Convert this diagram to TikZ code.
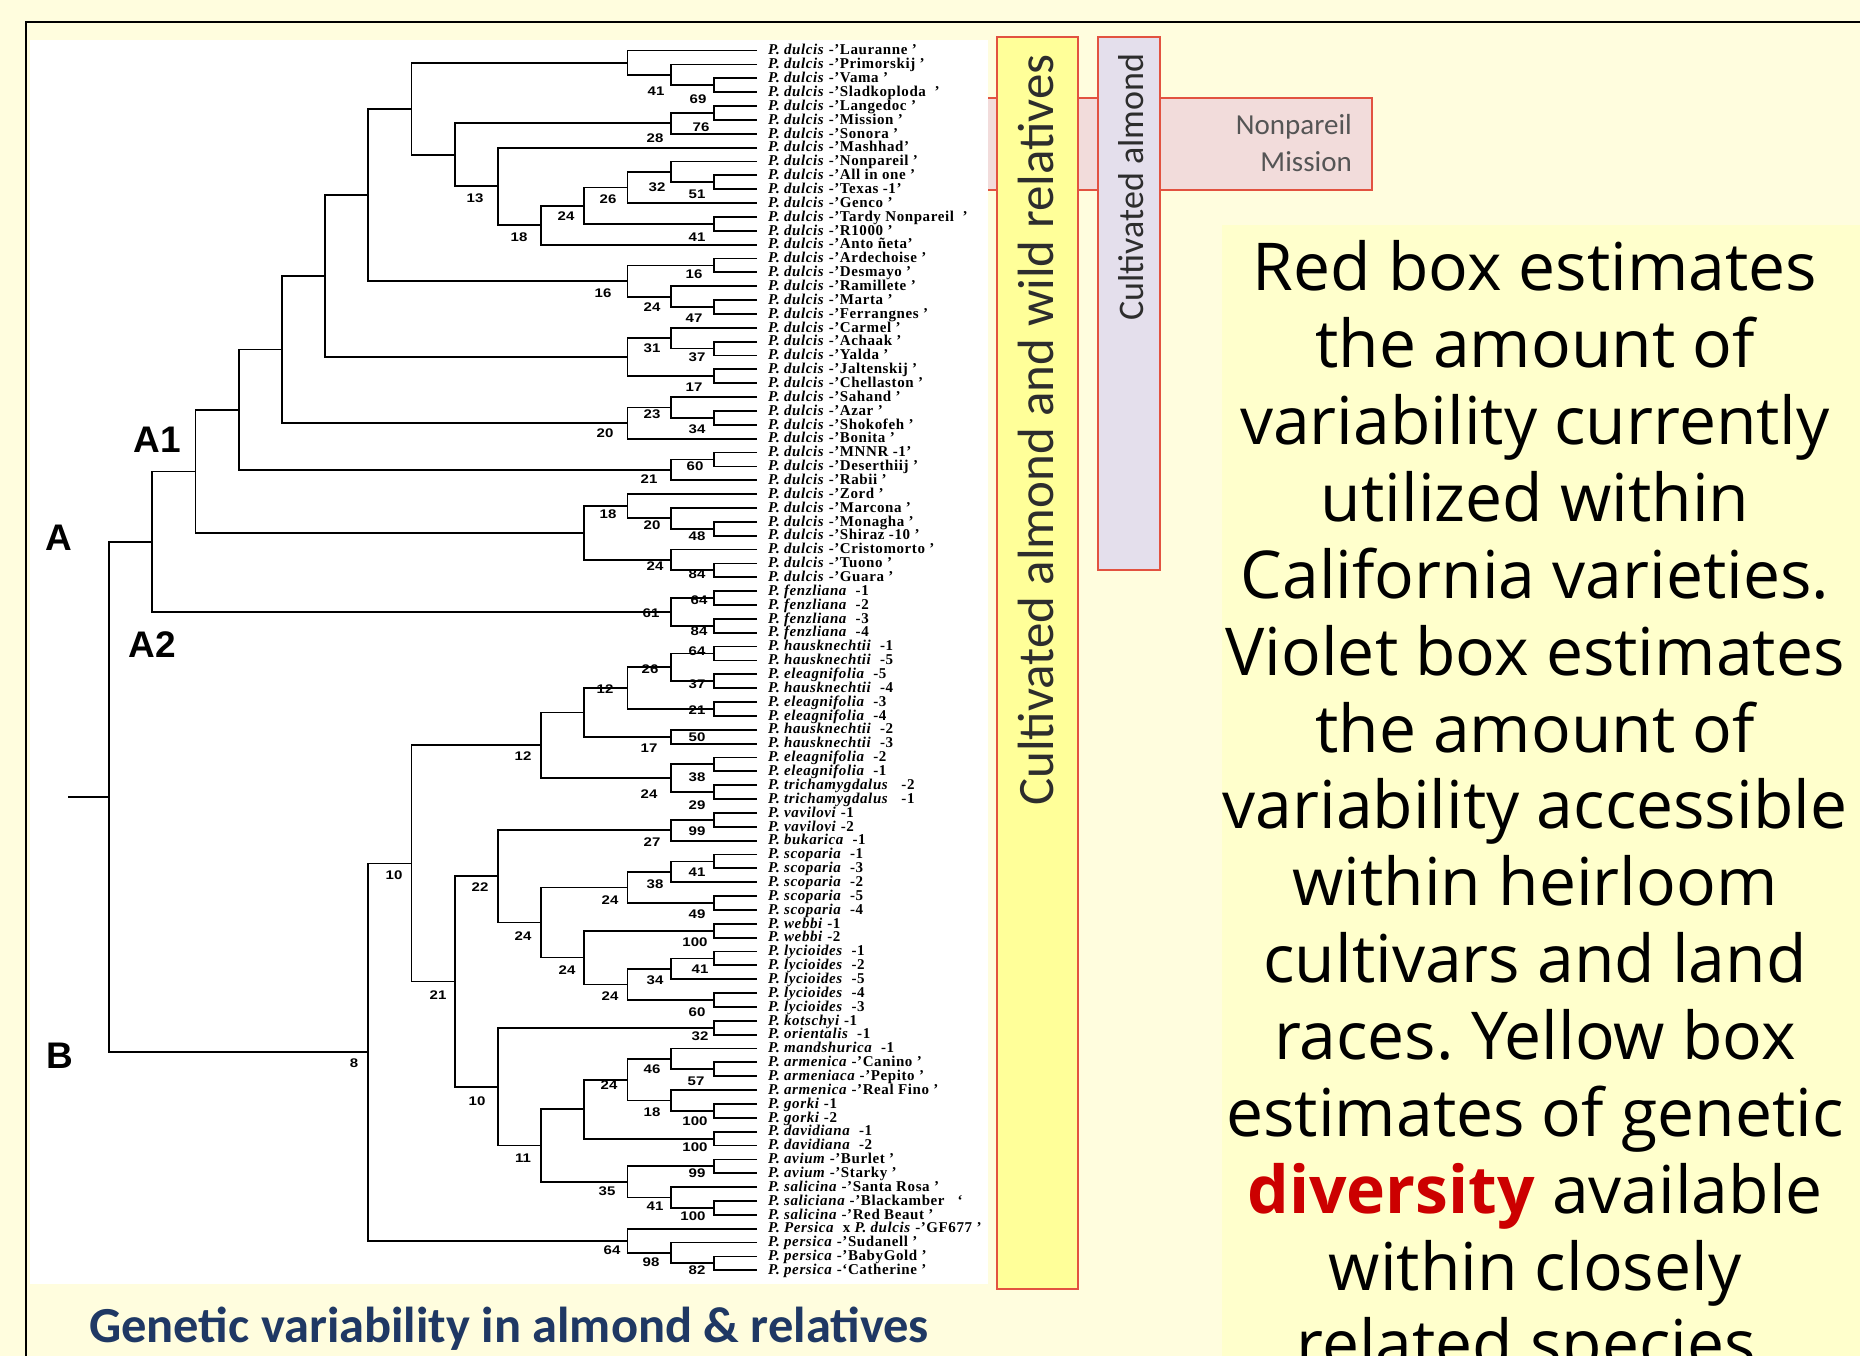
\documentclass[tikz,border=0pt]{standalone}
\usepackage{fontspec}
\setmainfont{Liberation Serif}
\newfontfamily\leaffont[LetterSpace=4]{Liberation Serif}
\newfontfamily\bsfont[FakeStretch=1.2]{Liberation Sans}
\newfontfamily\arialf{Liberation Sans}
\newfontfamily\calf{Carlito}
\newfontfamily\rtfont{Open Sans}
\usetikzlibrary{calc}
\frenchspacing
\definecolor{bgyel}{RGB}{255,253,222}
\definecolor{txtyel}{RGB}{255,255,204}
\definecolor{boxyel}{RGB}{255,255,153}
\definecolor{boxvio}{RGB}{228,223,236}
\definecolor{boxpink}{RGB}{242,220,219}
\definecolor{boxred}{RGB}{226,82,64}
\definecolor{navy}{RGB}{31,56,100}
\definecolor{divred}{RGB}{204,0,0}
\definecolor{graytxt}{RGB}{85,85,85}
\definecolor{darktxt}{RGB}{45,45,45}
\newcounter{bscount}
\newcommand\leafnode[2]{%
  \pgfmathsetmacro\leafy{50.6+13.86*(#1-1)}%
  \coordinate (t#1) at (757,\leafy);%
  \node[leaflab] (lab#1) at (768,\leafy) {#2};}
\newcommand\tnode[4]{%
  \pgfmathsetmacro\nodex{109+43.2*#2}%
  \path let \p1=($(#3)!.5!(#4)$) in coordinate (#1) at (\nodex pt,\y1);%
  \draw[br] (#3) -| (#1) |- (#4);}
\newcommand\bsl[3]{\stepcounter{bscount}\node[bslab] (bs\thebscount) at (#1,#2) {#3};}
\newcommand\dul[1]{\textit{P. dulcis} -’#1}
\newcommand\spc[2]{\textit{P. #1}~~#2}
\newcommand\rtl[2]{\node[rtx] (rt#1) at (1535,{290.6+76.9*(#1-1)}) {#2};}
\begin{document}
\begin{tikzpicture}[x=1pt,y=-1pt,
  br/.style={line width=1.8pt,line join=miter},
  leaflab/.style={anchor=west,inner sep=0pt,text height=10.5pt,text depth=2pt,
    font=\leaffont\fontsize{15}{15}\selectfont\bfseries},
  bslab/.style={inner sep=0pt,font=\bsfont\fontsize{12.5}{12.5}\selectfont\bfseries},
  abl/.style={inner sep=0pt,font=\arialf\fontsize{37}{37}\selectfont\bfseries},
  rtx/.style={anchor=base,inner sep=0pt,font=\rtfont\fontsize{66}{66}\selectfont,text=black},
  colbox/.style={draw=boxred,line width=2.6pt}]
\useasboundingbox (0,0) rectangle (1860,1356);
\clip (0,0) rectangle (1860,1356);
\fill[bgyel] (0,0) rectangle (1860,1356);
\fill[txtyel] (1222,225) rectangle (1860,1356);
\draw[line width=2pt] (26,1356) -- (26,22) -- (1860,22);
% pink box (behind)
\draw[colbox,fill=boxpink] (975,98) rectangle (1372,190);
% white panel
\fill[white] (30,40) rectangle (988,1284);
% leaves
\leafnode{1}{\dul{Lauranne ’}}
\leafnode{2}{\dul{Primorskij ’}}
\leafnode{3}{\dul{Vama ’}}
\leafnode{4}{\dul{Sladkoploda ~’}}
\leafnode{5}{\dul{Langedoc ’}}
\leafnode{6}{\dul{Mission ’}}
\leafnode{7}{\dul{Sonora ’}}
\leafnode{8}{\dul{Mashhad’}}
\leafnode{9}{\dul{Nonpareil ’}}
\leafnode{10}{\dul{All in one ’}}
\leafnode{11}{\dul{Texas -1’}}
\leafnode{12}{\dul{Genco ’}}
\leafnode{13}{\dul{Tardy Nonpareil ~’}}
\leafnode{14}{\dul{R1000 ’}}
\leafnode{15}{\dul{Anto ñeta’}}
\leafnode{16}{\dul{Ardechoise ’}}
\leafnode{17}{\dul{Desmayo ’}}
\leafnode{18}{\dul{Ramillete ’}}
\leafnode{19}{\dul{Marta ’}}
\leafnode{20}{\dul{Ferrangnes ’}}
\leafnode{21}{\dul{Carmel ’}}
\leafnode{22}{\dul{Achaak ’}}
\leafnode{23}{\dul{Yalda ’}}
\leafnode{24}{\dul{Jaltenskij ’}}
\leafnode{25}{\dul{Chellaston ’}}
\leafnode{26}{\dul{Sahand ’}}
\leafnode{27}{\dul{Azar ’}}
\leafnode{28}{\dul{Shokofeh ’}}
\leafnode{29}{\dul{Bonita ’}}
\leafnode{30}{\dul{MNNR -1’}}
\leafnode{31}{\dul{Deserthiij ’}}
\leafnode{32}{\dul{Rabii ’}}
\leafnode{33}{\dul{Zord ’}}
\leafnode{34}{\dul{Marcona ’}}
\leafnode{35}{\dul{Monagha ’}}
\leafnode{36}{\dul{Shiraz -10 ’}}
\leafnode{37}{\dul{Cristomorto ’}}
\leafnode{38}{\dul{Tuono ’}}
\leafnode{39}{\dul{Guara ’}}
\leafnode{40}{\spc{fenzliana}{-1}}
\leafnode{41}{\spc{fenzliana}{-2}}
\leafnode{42}{\spc{fenzliana}{-3}}
\leafnode{43}{\spc{fenzliana}{-4}}
\leafnode{44}{\spc{hausknechtii}{-1}}
\leafnode{45}{\spc{hausknechtii}{-5}}
\leafnode{46}{\spc{eleagnifolia}{-5}}
\leafnode{47}{\spc{hausknechtii}{-4}}
\leafnode{48}{\spc{eleagnifolia}{-3}}
\leafnode{49}{\spc{eleagnifolia}{-4}}
\leafnode{50}{\spc{hausknechtii}{-2}}
\leafnode{51}{\spc{hausknechtii}{-3}}
\leafnode{52}{\spc{eleagnifolia}{-2}}
\leafnode{53}{\spc{eleagnifolia}{-1}}
\leafnode{54}{\spc{trichamygdalus}{~-2}}
\leafnode{55}{\spc{trichamygdalus}{~-1}}
\leafnode{56}{\textit{P. vavilovi} -1}
\leafnode{57}{\textit{P. vavilovi} -2}
\leafnode{58}{\textit{P. bukarica} ~-1}
\leafnode{59}{\textit{P. scoparia} ~-1}
\leafnode{60}{\textit{P. scoparia} ~-3}
\leafnode{61}{\textit{P. scoparia} ~-2}
\leafnode{62}{\textit{P. scoparia} ~-5}
\leafnode{63}{\textit{P. scoparia} ~-4}
\leafnode{64}{\textit{P. webbi} -1}
\leafnode{65}{\textit{P. webbi} -2}
\leafnode{66}{\spc{lycioides}{-1}}
\leafnode{67}{\spc{lycioides}{-2}}
\leafnode{68}{\spc{lycioides}{-5}}
\leafnode{69}{\spc{lycioides}{-4}}
\leafnode{70}{\spc{lycioides}{-3}}
\leafnode{71}{\textit{P. kotschyi} -1}
\leafnode{72}{\spc{orientalis}{-1}}
\leafnode{73}{\spc{mandshurica}{-1}}
\leafnode{74}{\textit{P. armenica} -’Canino ’}
\leafnode{75}{\textit{P. armeniaca} -’Pepito ’}
\leafnode{76}{\textit{P. armenica} -’Real Fino ’}
\leafnode{77}{\textit{P. gorki} -1}
\leafnode{78}{\textit{P. gorki} -2}
\leafnode{79}{\spc{davidiana}{-1}}
\leafnode{80}{\spc{davidiana}{-2}}
\leafnode{81}{\textit{P. avium} -’Burlet ’}
\leafnode{82}{\textit{P. avium} -’Starky ’}
\leafnode{83}{\textit{P. salicina} -’Santa Rosa ’}
\leafnode{84}{\textit{P. saliciana} -’Blackamber ~~‘}
\leafnode{85}{\textit{P. salicina} -’Red Beaut ’}
\leafnode{86}{\textit{P. Persica} ~x \textit{P. dulcis} -’GF677 ’}
\leafnode{87}{\textit{P. persica} -’Sudanell ’}
\leafnode{88}{\textit{P. persica} -’BabyGold ’}
\leafnode{89}{\textit{P. persica} -‘Catherine ’}
% tree A
\tnode{a1}{14}{t3}{t4}
\tnode{a2}{13}{t2}{a1}
\tnode{a3}{12}{t1}{a2}
\tnode{a4}{14}{t5}{t6}
\tnode{a5}{13}{a4}{t7}
\tnode{a6}{14}{t10}{t11}
\tnode{a7}{13}{t9}{a6}
\tnode{a8}{12}{a7}{t12}
\tnode{a9}{14}{t13}{t14}
\tnode{a10}{11}{a8}{a9}
\tnode{a11}{10}{a10}{t15}
\tnode{a12}{9}{t8}{a11}
\tnode{a13}{8}{a5}{a12}
\tnode{a14}{7}{a3}{a13}
\tnode{a15}{14}{t16}{t17}
\tnode{a16}{14}{t19}{t20}
\tnode{a17}{13}{t18}{a16}
\tnode{a18}{12}{a15}{a17}
\tnode{a19}{6}{a14}{a18}
\tnode{a20}{14}{t22}{t23}
\tnode{a21}{13}{t21}{a20}
\tnode{a22}{14}{t24}{t25}
\tnode{a23}{12}{a21}{a22}
\tnode{a24}{5}{a19}{a23}
\tnode{a25}{14}{t27}{t28}
\tnode{a26}{13}{t26}{a25}
\tnode{a27}{12}{a26}{t29}
\tnode{a28}{4}{a24}{a27}
\tnode{a29}{14}{t30}{t31}
\tnode{a30}{13}{a29}{t32}
\tnode{a31}{3}{a28}{a30}
\tnode{a32}{14}{t35}{t36}
\tnode{a33}{13}{t34}{a32}
\tnode{a34}{12}{t33}{a33}
\tnode{a35}{14}{t38}{t39}
\tnode{a36}{13}{t37}{a35}
\tnode{a37}{11}{a34}{a36}
\tnode{A1}{2}{a31}{a37}
\tnode{f1}{14}{t40}{t41}
\tnode{f2}{14}{t42}{t43}
\tnode{f3}{13}{f1}{f2}
\tnode{A}{1}{A1}{f3}
% tree B
\tnode{b1}{14}{t44}{t45}
\tnode{b2}{14}{t46}{t47}
\tnode{b3}{13}{b1}{b2}
\tnode{b4}{14}{t48}{t49}
\tnode{b5}{12}{b3}{b4}
\tnode{b6}{13}{t50}{t51}
\tnode{b7}{11}{b5}{b6}
\tnode{b8}{14}{t52}{t53}
\tnode{b9}{14}{t54}{t55}
\tnode{b10}{13}{b8}{b9}
\tnode{b11}{10}{b7}{b10}
\tnode{b12}{14}{t56}{t57}
\tnode{b13}{13}{b12}{t58}
\tnode{b14}{14}{t59}{t60}
\tnode{b15}{13}{b14}{t61}
\tnode{b16}{14}{t62}{t63}
\tnode{b17}{12}{b15}{b16}
\tnode{b18}{14}{t64}{t65}
\tnode{b19}{14}{t66}{t67}
\tnode{b20}{13}{b19}{t68}
\tnode{b21}{14}{t69}{t70}
\tnode{b22}{12}{b20}{b21}
\tnode{b23}{11}{b18}{b22}
\tnode{b24}{10}{b17}{b23}
\tnode{b25}{9}{b13}{b24}
\tnode{b26}{14}{t71}{t72}
\tnode{b27}{14}{t74}{t75}
\tnode{b28}{13}{t73}{b27}
\tnode{b29}{14}{t77}{t78}
\tnode{b30}{13}{t76}{b29}
\tnode{b31}{12}{b28}{b30}
\tnode{b32}{14}{t79}{t80}
\tnode{b33}{11}{b31}{b32}
\tnode{b34}{14}{t81}{t82}
\tnode{b35}{14}{t84}{t85}
\tnode{b36}{13}{t83}{b35}
\tnode{b37}{12}{b34}{b36}
\tnode{b38}{10}{b33}{b37}
\tnode{b39}{9}{b26}{b38}
\tnode{b40}{8}{b25}{b39}
\tnode{b41}{7}{b11}{b40}
\tnode{b42}{14}{t88}{t89}
\tnode{b43}{13}{t87}{b42}
\tnode{b44}{12}{t86}{b43}
\tnode{B}{6}{b41}{b44}
\tnode{root}{0}{A}{B}
\coordinate (rstub) at ($(root)+(-41,0)$);
\draw[br] (root) -- (rstub);
% bootstrap values
\bsl{656}{91}{41}\bsl{698}{99}{69}\bsl{701}{127}{76}\bsl{655}{138}{28}
\bsl{657}{187}{32}\bsl{697}{194}{51}\bsl{608}{199}{26}\bsl{566}{216}{24}
\bsl{475}{198}{13}\bsl{519}{237}{18}\bsl{697}{237}{41}\bsl{694}{274}{16}
\bsl{603}{293}{16}\bsl{652}{307}{24}\bsl{694}{318}{47}\bsl{652}{348}{31}
\bsl{697}{357}{37}\bsl{694}{387}{17}\bsl{652}{414}{23}\bsl{697}{429}{34}
\bsl{605}{433}{20}\bsl{695}{466}{60}\bsl{649}{479}{21}\bsl{608}{514}{18}
\bsl{652}{525}{20}\bsl{697}{536}{48}\bsl{655}{566}{24}\bsl{697}{574}{84}
\bsl{699}{600}{64}\bsl{651}{613}{61}\bsl{699}{631}{84}
\bsl{697}{651}{64}\bsl{650}{669}{26}\bsl{697}{684}{37}\bsl{605}{689}{12}
\bsl{697}{710}{21}\bsl{697}{737}{50}\bsl{649}{748}{17}\bsl{523}{756}{12}
\bsl{697}{777}{38}\bsl{649}{794}{24}\bsl{697}{805}{29}\bsl{697}{831}{99}
\bsl{652}{842}{27}\bsl{394}{875}{10}\bsl{697}{872}{41}\bsl{655}{884}{38}
\bsl{480}{887}{22}\bsl{610}{900}{24}\bsl{697}{914}{49}\bsl{523}{936}{24}
\bsl{695}{942}{100}\bsl{700}{969}{41}\bsl{567}{970}{24}\bsl{655}{980}{34}
\bsl{610}{996}{24}\bsl{438}{995}{21}\bsl{697}{1012}{60}\bsl{700}{1036}{32}
\bsl{354}{1063}{8}\bsl{652}{1069}{46}\bsl{696}{1081}{57}\bsl{609}{1085}{24}
\bsl{477}{1101}{10}\bsl{652}{1112}{18}\bsl{695}{1121}{100}\bsl{695}{1147}{100}
\bsl{523}{1158}{11}\bsl{697}{1173}{99}\bsl{607}{1191}{35}\bsl{655}{1206}{41}
\bsl{693}{1216}{100}\bsl{612}{1250}{64}\bsl{651}{1262}{98}\bsl{697}{1270}{82}
% clade letters
\node[abl] (labA1) at (157,440) {A1};
\node[abl] (labA2) at (152,645) {A2};
\node[abl] (labA) at (59,538) {A};
\node[abl] (labB) at (60,1056) {B};
% coloured boxes
\draw[colbox,fill=boxyel] (997,37) rectangle (1078,1289);
\draw[colbox,fill=boxvio] (1098,37) rectangle (1160,570);
\node[anchor=base,rotate=90,inner sep=0pt,text=darktxt,font=\calf\fontsize{51}{51}\selectfont]
  (yeltxt) at (1053,430) {Cultivated almond and wild relatives};
\node[anchor=base,rotate=90,inner sep=0pt,text=darktxt,font=\calf\fontsize{36}{36}\selectfont]
  (viotxt) at (1143,187) {Cultivated almond};
\node[anchor=base east,inner sep=0pt,text=graytxt,font=\calf\fontsize{29}{29}\selectfont]
  (np1) at (1352,135) {Nonpareil};
\node[anchor=base east,inner sep=0pt,text=graytxt,font=\calf\fontsize{29}{29}\selectfont]
  (np2) at (1352,172) {Mission};
% right text
\rtl{1}{Red box estimates}
\rtl{2}{the amount of}
\rtl{3}{variability currently}
\rtl{4}{utilized within}
\rtl{5}{California varieties.}
\rtl{6}{Violet box estimates}
\rtl{7}{the amount of}
\rtl{8}{variability accessible}
\rtl{9}{within heirloom}
\rtl{10}{cultivars and land}
\rtl{11}{races. Yellow box}
\rtl{12}{estimates of genetic}
\rtl{13}{{\color{divred}\bfseries diversity} available}
\rtl{14}{within closely}
\rtl{15}{related species.}
% title
\node[anchor=base west,inner sep=0pt,text=navy,font=\calf\fontsize{50.5}{50.5}\selectfont\bfseries]
  (title) at (89,1342) {Genetic variability in almond \& relatives};
\end{tikzpicture}
\end{document}
